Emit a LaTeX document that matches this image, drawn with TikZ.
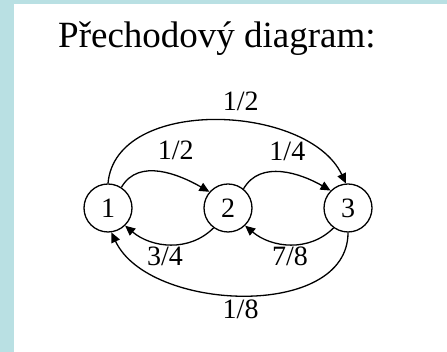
\documentclass[tikz,border=0pt]{standalone}
\usepackage{fontspec}
\setmainfont{Liberation Serif}
\usetikzlibrary{arrows.meta}
\definecolor{frameteal}{RGB}{185,224,227}
\begin{document}
\begin{tikzpicture}[x=1pt,y=1pt,
  state/.style={circle,draw,line width=1.3pt,minimum size=48pt,inner sep=0pt,
    font=\fontsize{28}{30}\selectfont},
  trans/.style={line width=1.3pt,-{Triangle[length=10pt,width=9pt]}},
  prob/.style={font=\fontsize{28}{30}\selectfont,inner sep=0pt}]
  % page frame
  \fill[frameteal] (0,0) rectangle (447,352);
  \fill[white] (14,0) rectangle (447,348);
  \useasboundingbox (0,0) rectangle (447,352);

  \node[anchor=base west,inner sep=0pt,font=\fontsize{37}{40}\selectfont]
    (title) at (58,304) {Přechodový diagram:};

  % states
  \node[state] (s1) at (108,144) {1};
  \node[state] (s2) at (228,144) {2};
  \node[state] (s3) at (348,144) {3};

  % transitions
  \draw[trans] (s1.57) to[out=60,in=150] node[prob,anchor=base,yshift=12pt,xshift=15pt] (p12) {1/2} (s2.139);
  \draw[trans] (s2.51) to[out=60,in=150] node[prob,anchor=base,yshift=12pt,xshift=5pt] (p23) {1/4} (s3.135);
  \draw[trans] (s1.90) to[out=85,in=115,looseness=0.95] node[prob,anchor=base,yshift=10pt,xshift=25pt] (p13) {1/2} (s3.95);
  \draw[trans] (s2.234) to[out=225,in=-40] node[prob,anchor=base,yshift=-21pt,xshift=-5pt] (p21) {3/4} (s1.314);
  \draw[trans] (s3.234) to[out=225,in=-40] node[prob,anchor=base,yshift=-21pt,xshift=0pt] (p32) {7/8} (s2.314);
  \draw[trans] (s3.270) to[out=-90,in=-65,looseness=0.95] node[prob,anchor=base,yshift=-23pt,xshift=-3pt] (p31) {1/8} (s1.278);
\end{tikzpicture}
\end{document}
